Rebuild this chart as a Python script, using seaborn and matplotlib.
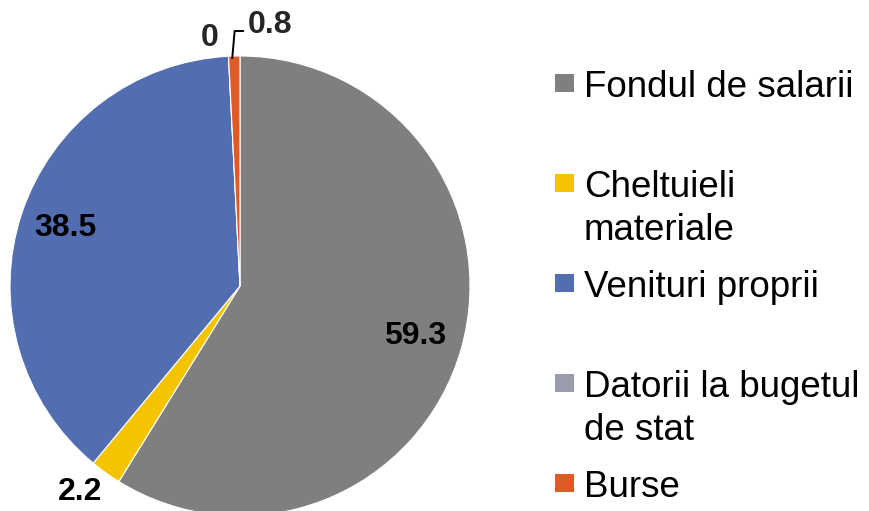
import numpy as np
import matplotlib
matplotlib.use("Agg")
import matplotlib.pyplot as plt
import seaborn as sns
from matplotlib.patches import Rectangle

# data
categories = ["Fondul de salarii", "Cheltuieli\nmateriale", "Venituri proprii",
              "Datorii la bugetul\nde stat", "Burse"]
values = [59.3, 2.2, 38.5, 0, 0.8]
value_labels = ["59.3", "2.2", "38.5", "0", "0.8"]
colors = ["#7f7f7f", "#f5c400", "#526db0", "#9b9bae", "#df5a24"]

sns.set_theme(style="white")
plt.rcParams["font.family"] = ["Liberation Sans", "DejaVu Sans"]

W, H = 869, 511
fig = plt.figure(figsize=(W / 100, H / 100), dpi=100)
ax = fig.add_axes([0, 0, 1, 1])

cx, cy, r = 240, H - 286, 230
wedges, _ = ax.pie(values, colors=colors, startangle=90, counterclock=False,
                   center=(cx, cy), radius=r,
                   wedgeprops=dict(edgecolor="white", linewidth=0.8))
ax.set_xlim(0, W)
ax.set_ylim(0, H)
ax.set_aspect("equal")
ax.axis("off")

lab_fs = 23
# data labels (distance as fraction of radius, plus small nudge in pixels)
label_dist = {0: (0.79, 0, 0), 1: (1.13, -8, 5), 2: (0.80, 0, 0)}
for i, w in enumerate(wedges):
    ang = np.deg2rad((w.theta1 + w.theta2) / 2)
    if i in label_dist:
        f, nx, ny = label_dist[i]
        d = f * r
        ax.text(cx + d * np.cos(ang) + nx, cy + d * np.sin(ang) + ny, value_labels[i],
                ha="center", va="center", fontsize=lab_fs, fontweight="bold", color="black")

# "0" label (zero slice)
ang = np.deg2rad(wedges[3].theta1)
ax.text(cx + 1.09 * r * np.cos(ang) - 18, cy + 1.09 * r * np.sin(ang) - 2, value_labels[3],
        ha="center", va="center", fontsize=lab_fs, fontweight="bold")

# "0.8" label with leader line
ang = np.deg2rad((wedges[4].theta1 + wedges[4].theta2) / 2)
ax.annotate(value_labels[4], xy=(cx + r * np.cos(ang) - 2, cy + r * np.sin(ang) - 2),
            xytext=(cx + 8, cy + r + 31), ha="left", va="center",
            fontsize=lab_fs, fontweight="bold",
            arrowprops=dict(arrowstyle="-", color="black", lw=1.4,
                            connectionstyle="angle,angleA=0,angleB=85,rad=0",
                            relpos=(0, 0.3), shrinkA=1, shrinkB=0))

# legend (manual, handles aligned with first text line)
for i, (lab, col) in enumerate(zip(categories, colors)):
    yc = H - (83 + 100 * i)
    ax.add_patch(Rectangle((555, yc - 9), 19, 18, facecolor=col, edgecolor="none"))
    for k, line in enumerate(lab.split("\n")):
        ax.text(584, yc - 43 * k, line, ha="left", va="center_baseline",
                fontsize=26.5, color="black")

fig.savefig("out.png", dpi=100)
